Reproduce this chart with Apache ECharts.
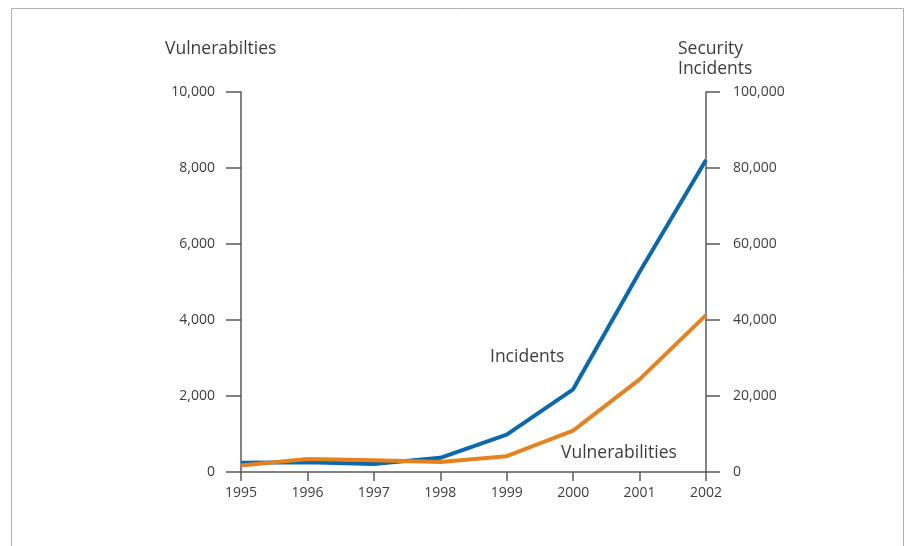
<!DOCTYPE html>
<html><head><meta charset="utf-8">
<script src="https://cdn.jsdelivr.net/npm/echarts@6/dist/echarts.min.js"></script>
<style>html,body{margin:0;padding:0;background:#fff}#c{width:906px;height:546px}</style>
</head><body><div id="c"></div>
<script>
const years = ['1995','1996','1997','1998','1999','2000','2001','2002'];
const incidents = [2412, 2573, 2134, 3734, 9859, 21756, 52658, 82094];
const vulnerabilities = [171, 345, 311, 262, 417, 1090, 2437, 4129];
const leftTicks = [0, 2000, 4000, 6000, 8000, 10000];
const rightTicks = [0, 20000, 40000, 60000, 80000, 100000];

const FONT = '"Open Sans", "Noto Sans", sans-serif';
const TXT = '#3c3c3c';
const AX = '#5a5a5a';
const fmt = v => v.toLocaleString('en-US');

const chart = echarts.init(document.getElementById('c'));
chart.setOption({
  animation: false,
  textStyle: { fontFamily: FONT },
  grid: { left: 241, right: 200, top: 92, bottom: 74, containLabel: false },
  xAxis: {
    type: 'category', data: years, boundaryGap: false,
    axisLine: { lineStyle: { color: AX, width: 1.5 } },
    axisTick: { length: 9, lineStyle: { color: AX, width: 1.5 }, alignWithLabel: true },
    axisLabel: { color: TXT, fontSize: 14, margin: 14, fontFamily: FONT },
    splitLine: { show: false }
  },
  yAxis: [
    {
      type: 'value', min: leftTicks[0], max: leftTicks[leftTicks.length-1], interval: 2000,
      position: 'left',
      axisLine: { show: true, lineStyle: { color: AX, width: 1.5 } },
      axisTick: { show: true, length: 15, lineStyle: { color: AX, width: 1.5 } },
      axisLabel: { color: TXT, fontSize: 14, margin: 26, formatter: fmt, fontFamily: FONT },
      splitLine: { show: false }
    },
    {
      type: 'value', min: rightTicks[0], max: rightTicks[rightTicks.length-1], interval: 20000,
      position: 'right',
      axisLine: { show: true, lineStyle: { color: AX, width: 1.5 } },
      axisTick: { show: true, length: 14, lineStyle: { color: AX, width: 1.5 } },
      axisLabel: { color: TXT, fontSize: 14, margin: 27, formatter: fmt, fontFamily: FONT },
      splitLine: { show: false }
    }
  ],
  series: [
    {
      name: 'Incidents', type: 'line', yAxisIndex: 1, data: incidents,
      symbol: 'none', lineStyle: { color: '#0a68ad', width: 4 }, z: 2
    },
    {
      name: 'Vulnerabilities', type: 'line', yAxisIndex: 0, data: vulnerabilities,
      symbol: 'none', lineStyle: { color: '#e5821f', width: 4 }, z: 3
    }
  ],
  graphic: [
    { type: 'rect', shape: { x: 11.5, y: 8.5, width: 892, height: 560 },
      style: { fill: 'none', stroke: '#b0b0b0', lineWidth: 1 }, silent: true, z: -1 },
    { type: 'text', left: 165, top: 40,
      style: { text: 'Vulnerabilties', fill: TXT, font: '17.5px ' + FONT } },
    { type: 'text', left: 678, top: 39,
      style: { text: 'Security\nIncidents', fill: TXT, font: '17.5px ' + FONT, lineHeight: 20 } },
    { type: 'text', left: 490, top: 348,
      style: { text: 'Incidents', fill: TXT, font: '17.5px ' + FONT } },
    { type: 'text', left: 561, top: 444,
      style: { text: 'Vulnerabilities', fill: TXT, font: '17.5px ' + FONT } }
  ]
});
</script></body></html>
